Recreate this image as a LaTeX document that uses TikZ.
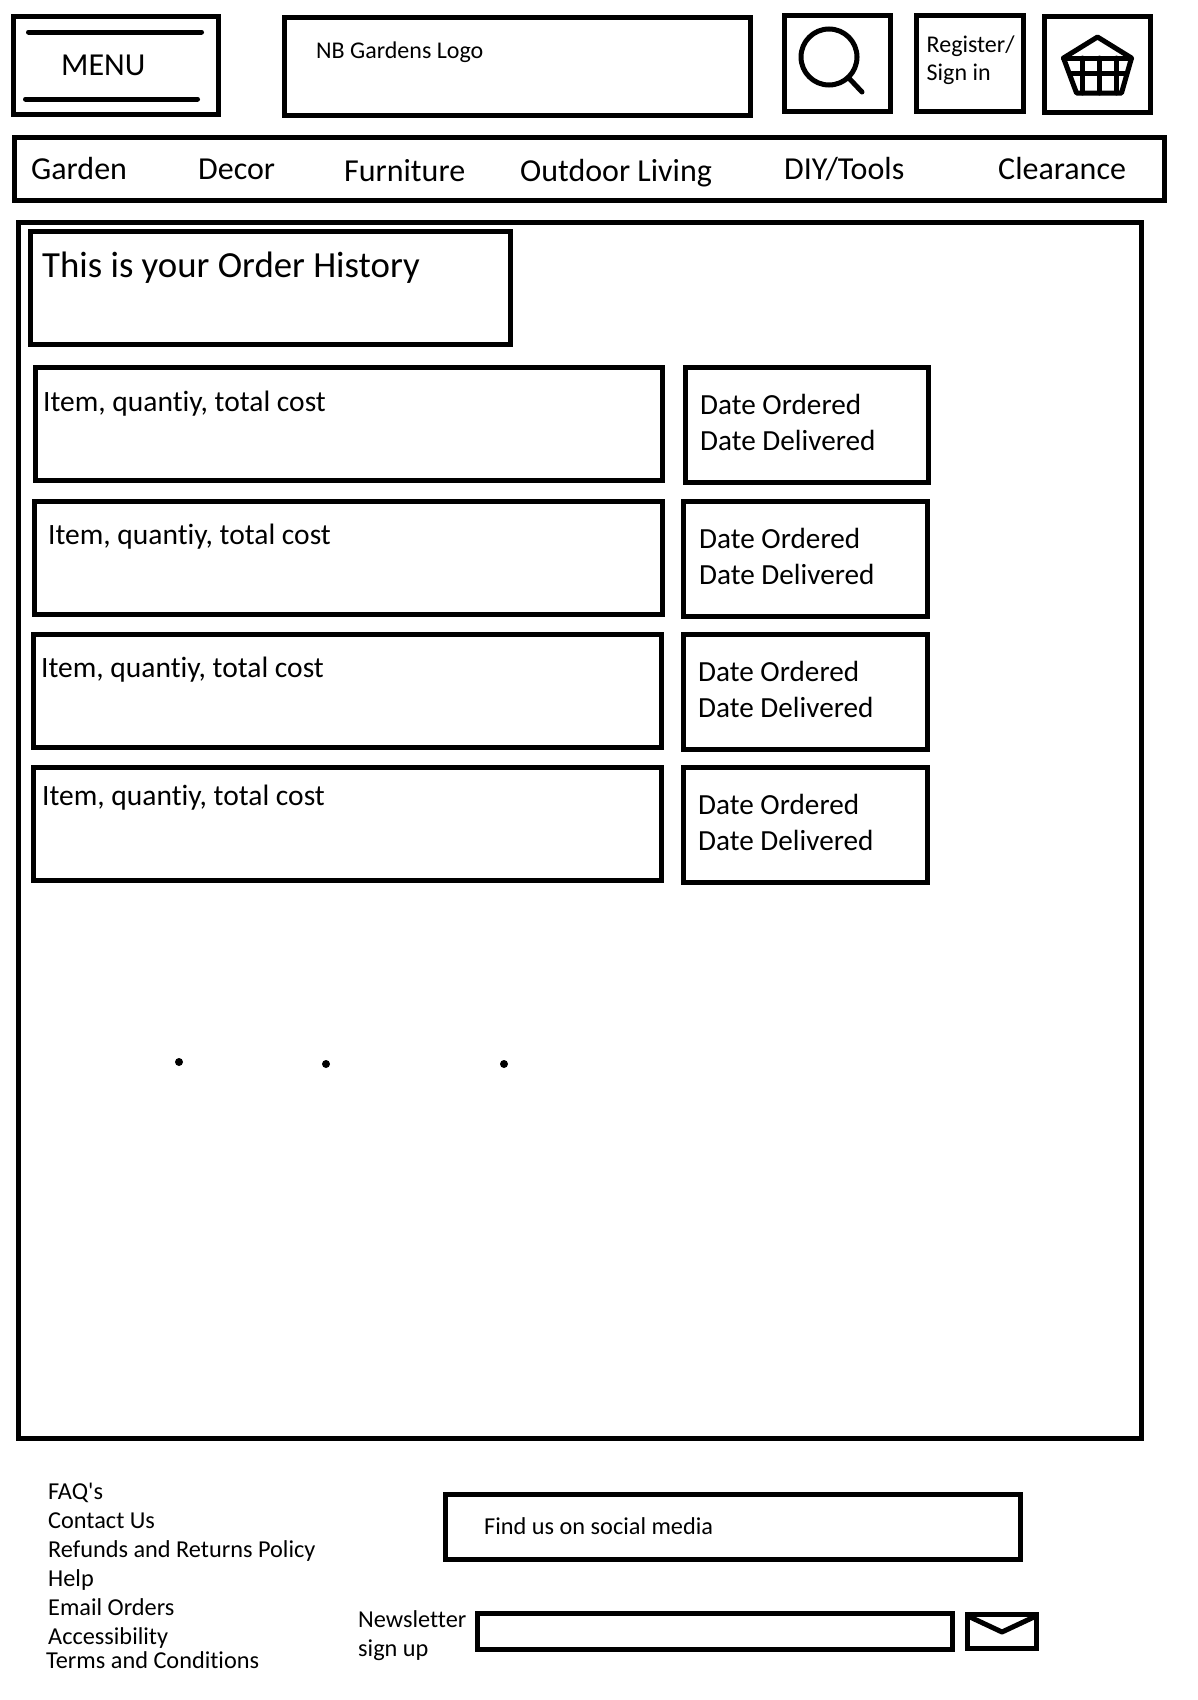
\documentclass[tikz,border=0pt]{standalone}
\usepackage{fontspec}
\setmainfont{Carlito}[Ligatures={TeXOff,NoCommon}]
\usetikzlibrary{positioning}
\tikzset{
    wirebox/.style = {rectangle, draw=black, line width=5pt, inner sep=0pt, outer sep=0pt},
    thinstroke/.style = {draw=black, line width=5pt, line cap=round, line join=round},
    mytext/.style = {inner sep=0pt, anchor=base west, align=left},
    navtext/.style = {mytext, font=\fontsize{32}{32}\selectfont},
    itemtext/.style = {mytext, font=\fontsize{29.5}{29.5}\selectfont},
    bodytext/.style = {mytext, font=\fontsize{29.2}{29.2}\selectfont},
    smalltext/.style = {mytext, font=\fontsize{24}{24}\selectfont},
    foottext/.style = {mytext, font=\fontsize{24.3}{24.3}\selectfont},
    mydot/.style = {circle, fill=black, inner sep=0pt, minimum size=8pt}
}

\begin{document}
\begin{tikzpicture}[x=1pt,y=-1pt]
  \useasboundingbox (0,0) rectangle (1198,1700);

  % header
  \node[wirebox, minimum width=205pt, minimum height=98pt] at (116,65.5) (menu) {};
  \node[wirebox, minimum width=465.6pt, minimum height=98pt] at (517.3,66.5) (logo) {};
  \node[wirebox, minimum width=106pt, minimum height=96pt] at (837,63.5) (search) {};
  \node[wirebox, minimum width=107pt, minimum height=96pt] at (969.5,63.5) (register) {};
  \node[wirebox, minimum width=106pt, minimum height=96pt] at (1097.5,64.5) (basket) {};

  \coordinate (mtl) at (28.5,32);
  \coordinate (mtr) at (201.5,32);
  \coordinate (mbl) at (25.5,99);
  \coordinate (mbr) at (197.5,99);
  \draw[thinstroke] (mtl) -- (mtr);
  \draw[thinstroke] (mbl) -- (mbr);

  \node[navtext] at (61,75) (menutext) {MENU};
  \node[smalltext] at (316,58) (logotext) {NB Gardens Logo};
  \node[smalltext] at (926.5,52) (regtext) {Register/};
  \node[smalltext] at (926.5,80) (signtext) {Sign in};

  % search icon
  \node[circle, draw=black, line width=5pt, minimum size=56pt, inner sep=0pt, outer sep=0pt] at (829,57) (lens) {};
  \coordinate (handle) at (862,92);
  \draw[thinstroke] (lens) -- (handle);

  % basket icon
  \coordinate (bt) at (1097.5,37);
  \coordinate (bl) at (1063.5,58);
  \coordinate (br) at (1131.5,58);
  \coordinate (bdl) at (1076.5,93);
  \coordinate (bdr) at (1121.5,93);
  \draw[thinstroke] (bl) -- (bt) -- (br) -- (bdr) -- (bdl) -- cycle;
  \draw[thinstroke] (bl) -- (br);
  \draw[thinstroke] (1070.5,73) -- (1126.5,73);
  \draw[thinstroke] (1082.5,58) -- (1082.5,93);
  \draw[thinstroke] (1099.5,58) -- (1099.5,93);
  \draw[thinstroke] (1116.5,58) -- (1116.5,93);

  % nav bar
  \node[wirebox, minimum width=1149.6pt, minimum height=63pt] at (589.3,169) (nav) {};
  \node[navtext] at (31,179) (garden) {Garden};
  \node[navtext] at (198,179) (decor) {Decor};
  \node[navtext] at (344,181) (furniture) {Furniture};
  \node[navtext] at (520,181) (outdoor) {Outdoor Living};
  \node[navtext] at (784,179) (diy) {DIY/Tools};
  \node[navtext] at (998,179) (clearance) {Clearance};

  % main panel
  \node[wirebox, minimum width=1123pt, minimum height=1216pt] at (580,830.5) (panel) {};
  \node[wirebox, minimum width=480pt, minimum height=113pt] at (270.5,288) (title) {};
  \node[mytext, font=\fontsize{36.8}{36.8}\selectfont] at (42,277) (titletext) {This is your Order History};

  \node[wirebox, minimum width=627.4pt, minimum height=113pt] at (349.2,424) (item1) {};
  \node[wirebox, minimum width=243pt, minimum height=115pt] at (806.5,425) (date1) {};
  \node[wirebox, minimum width=628pt, minimum height=113pt] at (348.5,558) (item2) {};
  \node[wirebox, minimum width=244pt, minimum height=115pt] at (805.5,559) (date2) {};
  \node[wirebox, minimum width=628pt, minimum height=113pt] at (347.9,691) (item3) {};
  \node[wirebox, minimum width=244pt, minimum height=115pt] at (805,692) (date3) {};
  \node[wirebox, minimum width=628pt, minimum height=113pt] at (347.9,824) (item4) {};
  \node[wirebox, minimum width=244pt, minimum height=115pt] at (805,825) (date4) {};

  \node[itemtext] at (43,411) (itemtext1) {Item, quantiy, total cost};
  \node[itemtext] at (48,544) (itemtext2) {Item, quantiy, total cost};
  \node[itemtext] at (41,677) (itemtext3) {Item, quantiy, total cost};
  \node[itemtext] at (42,805) (itemtext4) {Item, quantiy, total cost};

  \node[bodytext] at (700,414) (ordered1) {Date Ordered};
  \node[bodytext] at (700,450) (delivered1) {Date Delivered};
  \node[bodytext] at (699,548) (ordered2) {Date Ordered};
  \node[bodytext] at (699,584) (delivered2) {Date Delivered};
  \node[bodytext] at (698,681) (ordered3) {Date Ordered};
  \node[bodytext] at (698,717) (delivered3) {Date Delivered};
  \node[bodytext] at (698,814) (ordered4) {Date Ordered};
  \node[bodytext] at (698,850) (delivered4) {Date Delivered};

  \node[mydot] at (179,1062) (dot1) {};
  \node[mydot] at (326,1064) (dot2) {};
  \node[mydot] at (504,1064) (dot3) {};

  % footer
  \node[foottext] at (48,1499) (faq) {FAQ's};
  \node[foottext] at (48,1528) (contact) {Contact Us};
  \node[foottext] at (48,1557) (refunds) {Refunds and Returns Policy};
  \node[foottext] at (48,1586) (help) {Help};
  \node[foottext] at (48,1615) (email) {Email Orders};
  \node[foottext] at (48,1644) (access) {Accessibility};
  \node[foottext] at (46,1668) (terms) {Terms and Conditions};

  \node[wirebox, minimum width=574.6pt, minimum height=65pt] at (732.8,1527) (social) {};
  \node[foottext] at (484,1534) (socialtext) {Find us on social media};

  \node[foottext] at (358,1627) (newstext) {Newsletter};
  \node[foottext] at (358,1656) (signup) {sign up};
  \node[wirebox, minimum width=475pt, minimum height=36pt] at (715,1631.5) (newsinput) {};
  \node[wirebox, minimum width=69pt, minimum height=34pt] at (1002,1631.5) (envelope) {};
  \coordinate (fl) at (970,1617);
  \coordinate (fm) at (1002,1632);
  \coordinate (fr) at (1034,1617);
  \draw[thinstroke] (fl) -- (fm) -- (fr);
\end{tikzpicture}
\end{document}
